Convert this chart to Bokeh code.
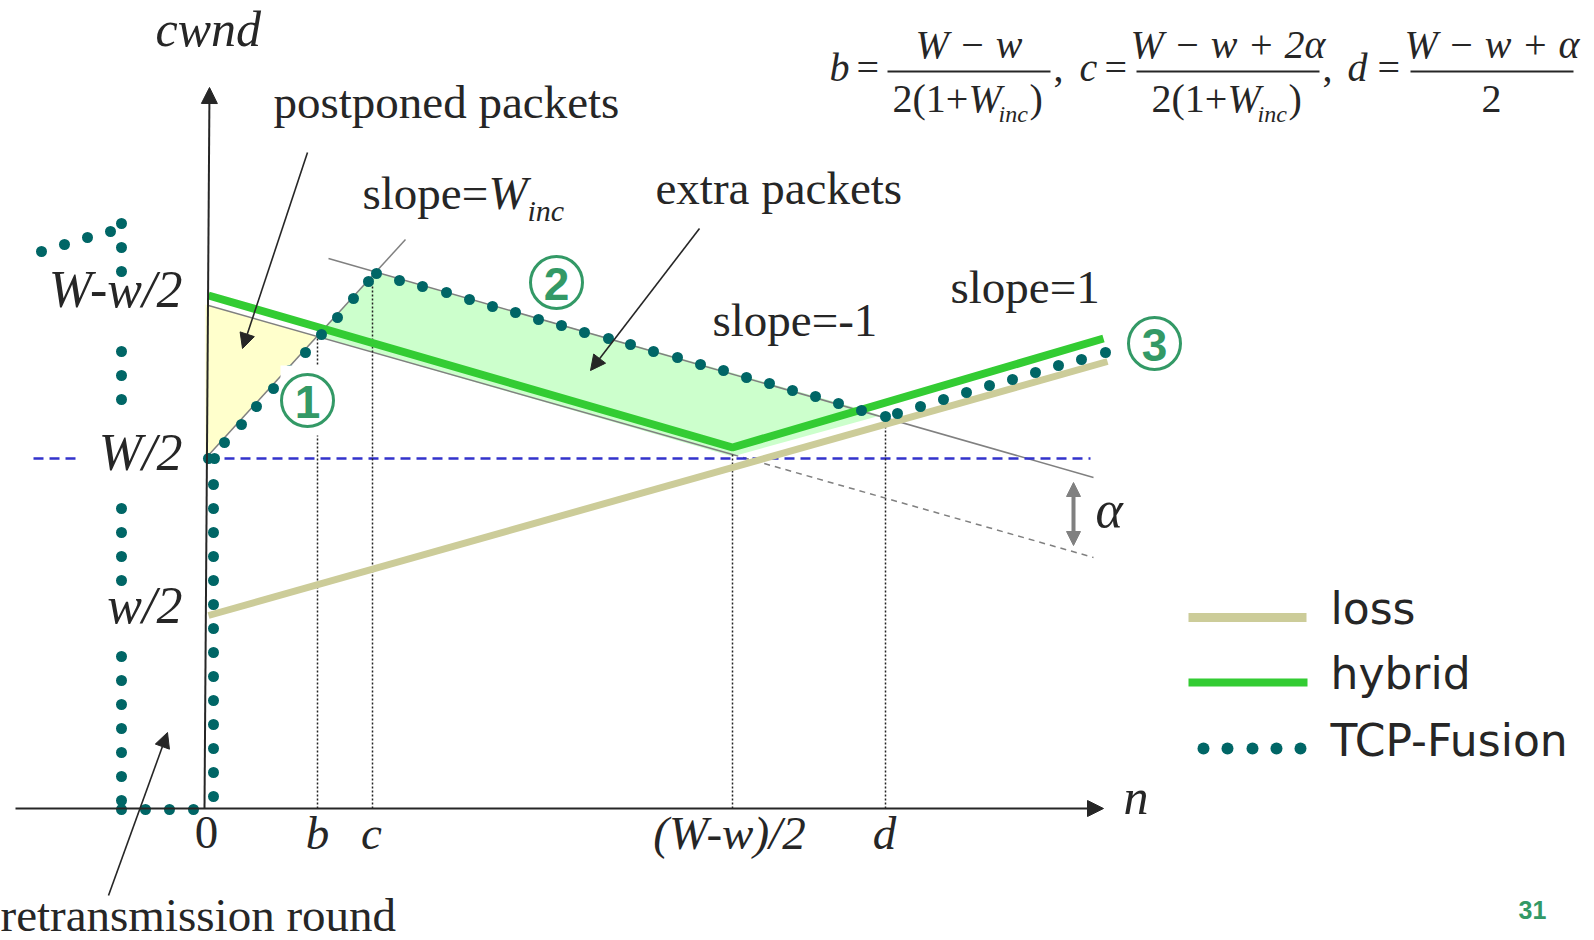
from bokeh.plotting import figure
from bokeh.models import Range1d, Label, Arrow, NormalHead
from bokeh.embed import file_html
from bokeh.resources import INLINE

# ---------------------------------------------------------------
# Window-evolution sketch: loss-based, hybrid and TCP-Fusion cwnd
# Units: n to the right, cwnd upwards, origin where the axes meet.
# ---------------------------------------------------------------

# characteristic cwnd levels (tick labels on the cwnd axis)
cwnd_tick_labels = ["W-w/2", "W/2", "w/2"]
cwnd_tick_values = [501, 338, 185]          # label baselines
level_W_half = 350

# characteristic rounds (tick labels on the n axis)
n_tick_labels = ["0", "b", "c", "(W-w)/2", "d"]
n_tick_values = [1, 112, 166, 524, 679]
n_marks = [112, 167, 527, 680]               # b, c, (W-w)/2, d
n_marks_top = [472, 530, 354, 392]           # where each guide meets its curve

# loss-based window
loss_n = [3, 902]
loss_cwnd = [193, 447]

# hybrid window
hybrid_n = [3, 527, 898]
hybrid_cwnd = [513, 361, 470]

# slope = -1 reference lines (lower one continues dashed after (W-w)/2)
lower_ref_n = [3, 527, 888]
lower_ref_cwnd = [503, 354, 251]
upper_ref_n = [123, 888]
upper_ref_cwnd = [550, 331]

# slope = W_inc reference line
winc_n = [0, 200]
winc_cwnd = [350, 569]

# TCP-Fusion window, one dot per round
fusion_n = ([-164, -141, -118, -95]
            + [-84] * 18
            + [-60, -36, -12]
            + [8] * 14
            + [3, 9]
            + [19, 36, 51, 68, 84, 100, 116, 132, 148, 163, 171]
            + [194, 217, 241, 264, 287, 310, 333, 356, 379, 403, 425,
               448, 472, 495, 518, 541, 564, 587, 610, 633, 656, 680]
            + [692, 715, 738, 761, 784, 807, 830, 853, 876, 900])
fusion_cwnd = ([557, 564, 571, 577]
               + [585, 561, 537, 457, 433, 409, 300, 276, 252, 228,
                  152, 128, 104, 80, 56, 32, 8, -1]
               + [-1, -1, -1]
               + [324, 300, 276, 252, 228, 204, 180, 156, 132, 108, 84, 60, 36, 12]
               + [350, 350]
               + [366, 384, 402, 420, 438, 456, 474, 491, 510, 527, 535]
               + [528, 522, 516, 509, 502, 496, 489, 483, 476, 470, 464,
                  457, 451, 444, 438, 431, 425, 418, 412, 405, 398, 392]
               + [395, 402, 409, 416, 423, 429, 436, 443, 449, 456])

# shaded areas
postponed_n = [0, 0, 112]
postponed_cwnd = [504, 350, 472]
extra_n = [112, 171, 660, 675, 527, 112]
extra_cwnd = [474, 536, 398, 393, 352, 472]

# phase markers
phase_labels = ["1", "2", "3"]
phase_n = [102, 351, 949]
phase_cwnd = [408, 526, 465]

legend_labels = ["loss", "hybrid", "TCP-Fusion"]

# ---------------------------------------------------------------
INK = "#262626"
SERIF = "Liberation Serif"
LOSS_C = "#cccc99"
HYB_C = "#33cc33"
DOT_C = "#006666"
PHASE_C = "#339966"
GREY = "#808080"

p = figure(width=1594, height=940, x_range=Range1d(-205, 1389), y_range=Range1d(-132, 808),
           output_backend="svg", toolbar_location=None, min_border=0,
           x_axis_type=None, y_axis_type=None, outline_line_color=None,
           background_fill_color="white", border_fill_color="white")
p.grid.visible = False


def label(x, y, txt, size, style="normal", font=SERIF, align="left", color=INK, baseline="alphabetic"):
    # alphabetic labels are given by their baseline; lift them so the glyphs sit on it
    if baseline == "alphabetic":
        y = y + 0.34 * size
    p.add_layout(Label(x=x, y=y, text=txt, text_font=font, text_font_size=f"{size}px",
                       text_font_style=style, text_align=align, text_baseline=baseline,
                       text_color=color))


# shaded regions
p.patch(postponed_n, postponed_cwnd, fill_color="#ffffcc", line_color=None)
p.patch(extra_n, extra_cwnd, fill_color="#ccffcc", line_color=None)

# reference lines
p.line(lower_ref_n[:2], lower_ref_cwnd[:2], line_color=GREY, line_width=1.5)
p.line(lower_ref_n[1:], lower_ref_cwnd[1:], line_color=GREY, line_width=1.5, line_dash="6 5")
p.line(upper_ref_n, upper_ref_cwnd, line_color=GREY, line_width=1.5)
p.line(winc_n, winc_cwnd, line_color=GREY, line_width=1.5)

# W/2 level
p.line([-172, -128], [level_W_half] * 2, line_color="#3333cc", line_width=2.5, line_dash="10 6")
p.line([3, 885], [level_W_half] * 2, line_color="#3333cc", line_width=2.5, line_dash="10 6")

# guides down to the n axis
for xm, ym in zip(n_marks, n_marks_top):
    p.line([xm, xm], [0, ym], line_color="#222222", line_width=1.5, line_dash="2 2")

# curves
p.line(loss_n, loss_cwnd, line_color=LOSS_C, line_width=7)
p.line(hybrid_n, hybrid_cwnd, line_color=HYB_C, line_width=8)
p.scatter(fusion_n, fusion_cwnd, size=11, fill_color=DOT_C, line_color=None)

# phase markers
p.quad(left=[75], right=[130], bottom=[373], top=[443], fill_color="white", line_color=None)
p.scatter(phase_n, phase_cwnd, size=52, fill_color=None, line_color=PHASE_C, line_width=3)
for t, xx, yy in zip(phase_labels, phase_n, phase_cwnd):
    label(xx, yy - 1, t, 46, style="bold", font="Liberation Sans", align="center",
          color=PHASE_C, baseline="middle")

# axes
p.add_layout(Arrow(end=NormalHead(size=16, fill_color=INK, line_color=INK),
                   x_start=-190, y_start=0, x_end=898, y_end=0, line_color=INK, line_width=2))
p.add_layout(Arrow(end=NormalHead(size=16, fill_color=INK, line_color=INK),
                   x_start=-1, y_start=0, x_end=4, y_end=721, line_color=INK, line_width=2))
label(-50, 763, "cwnd", 50, style="italic")
label(918, -5, "n", 50, style="italic")

# tick labels
for t, v in zip(cwnd_tick_labels, cwnd_tick_values):
    label(-23, v, t, 52, style="italic", align="right")
for t, v in zip(n_tick_labels, n_tick_values):
    label(v, -40, t, 47, style="normal" if t == "0" else "italic", align="center")

# annotations
label(68, 691, "postponed packets", 47)
label(157, 600, "slope=", 47)
label(283, 600, "W", 47, style="italic")
label(322, 588, "inc", 30, style="italic")
label(450, 605, "extra packets", 47)
label(507, 473, "slope=-1", 47)
label(745, 506, "slope=1", 47)
label(-205, -122, "retransmission round", 47)
label(890, 281, "\u03b1", 52, style="italic")

arrow_head = dict(size=15, fill_color=INK, line_color=INK)
p.add_layout(Arrow(end=NormalHead(**arrow_head), x_start=102, y_start=656, x_end=37, y_end=460,
                   line_color=INK, line_width=1.6))
p.add_layout(Arrow(end=NormalHead(**arrow_head), x_start=494, y_start=580, x_end=385, y_end=438,
                   line_color=INK, line_width=1.6))
p.add_layout(Arrow(end=NormalHead(**arrow_head), x_start=-97, y_start=-87, x_end=-38, y_end=76,
                   line_color=INK, line_width=1.6))
grey_head = dict(size=14, fill_color=GREY, line_color=GREY)
p.add_layout(Arrow(start=NormalHead(**grey_head), end=NormalHead(**grey_head),
                   x_start=868, y_start=326, x_end=868, y_end=263, line_color=GREY, line_width=4))

# formulas for b, c and d
FS = 40


def fraction(x0, x1, num, den_pieces):
    p.line([x0, x1], [737, 737], line_color=INK, line_width=2)
    label((x0 + x1) / 2, 750, num, FS, style="italic", align="center")
    for txt, dx, dy, size, style in den_pieces:
        label(x0 + dx, 696 + dy, txt, size, style=style)


def den_2_1_winc(offset):
    return [("2(1+", offset, 0, FS, "normal"),
            ("W", offset + 76, 0, FS, "italic"),
            ("inc", offset + 106, -10, 24, "italic"),
            (")", offset + 137, 0, FS, "normal")]


label(624, 727, "b", FS, style="italic")
label(651, 727, "=", FS)
fraction(682, 845, "W \u2212 w", den_2_1_winc(5))
label(848, 727, ",", FS)
label(874, 727, "c", FS, style="italic")
label(899, 727, "=", FS)
fraction(931, 1114, "W \u2212 w + 2\u03b1", den_2_1_winc(15))
label(1117, 727, ",", FS)
label(1142, 727, "d", FS, style="italic")
label(1172, 727, "=", FS)
fraction(1205, 1368, "W \u2212 w + \u03b1", [("2", 71, 0, FS, "normal")])

# legend
p.line([983, 1101], [191, 191], line_color=LOSS_C, line_width=9)
p.line([983, 1102], [126, 126], line_color=HYB_C, line_width=8)
p.scatter([998, 1022, 1047, 1071, 1095], [60] * 5, size=12, fill_color=DOT_C, line_color=None)
for t, yy in zip(legend_labels, [185, 120, 53]):
    label(1125, yy, t, 44, font="DejaVu Sans")

# page number
label(1313, -110, "31", 25, style="bold", font="Liberation Sans", color=PHASE_C)

open("out.html", "w").write(file_html(p, INLINE))
